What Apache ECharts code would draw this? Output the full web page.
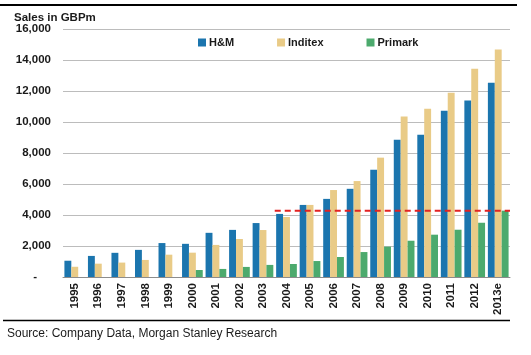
<!DOCTYPE html>
<html><head><meta charset="utf-8">
<script src="https://cdn.jsdelivr.net/npm/echarts@6/dist/echarts.min.js"></script>
<style>html,body{margin:0;padding:0;background:#fff}#c{width:531px;height:355px}</style>
</head><body><div id="c"></div>
<script>
const categories = ['1995','1996','1997','1998','1999','2000','2001','2002','2003','2004','2005','2006','2007','2008','2009','2010','2011','2012','2013e'];
const hm = [1050,1360,1560,1750,2190,2140,2850,3040,3480,4070,4650,5040,5690,6920,8860,9180,10730,11380,12540];
const inditex = [660,860,930,1100,1440,1570,2070,2450,3030,3870,4650,5610,6190,7700,10350,10860,11890,13440,14670];
const primark = [null,null,null,null,null,450,520,650,780,840,1030,1290,1610,1960,2340,2730,3050,3500,4280];
const refLevel = 4280;
const refStartIndex = 9;
const refEndIndex = 19;
const yTicks = {min:0, max:16000, interval:2000};

const chart = echarts.init(document.getElementById('c'), null, {renderer:'canvas'});
const FONT = '"Liberation Sans", Arial, sans-serif';
chart.setOption({
  animation:false,
  textStyle:{fontFamily:FONT},
  title:{text:'Sales in GBPm', left:9, top:7, textStyle:{fontSize:11.5, fontWeight:'bold', color:'#1a1a1a', fontFamily:FONT}},
  legend:{left:193, top:32, itemWidth:8, itemHeight:8, itemGap:43, icon:'rect',
    textStyle:{fontSize:11, fontWeight:'bold', color:'#1a1a1a', fontFamily:FONT, padding:[0,0,0,-2]},
    data:['H&M','Inditex','Primark']},
  grid:{left:63, right:21, top:29, bottom:78},
  xAxis:[{type:'category', data:categories,
    axisLine:{lineStyle:{color:'#8c8c8c', width:1}}, axisTick:{show:false},
    axisLabel:{rotate:90, fontSize:11.5, fontWeight:'bold', color:'#1a1a1a', margin:6, interval:0, fontFamily:FONT}},
   {type:'value', min:0, max:categories.length, show:false}],
  yAxis:{type:'value', min:yTicks.min, max:yTicks.max, interval:yTicks.interval,
    axisLine:{show:false}, axisTick:{show:false},
    splitLine:{lineStyle:{color:'#bcbcbc', width:1}},
    axisLabel:{margin:12, fontSize:11.5, fontWeight:'bold', color:'#1a1a1a', fontFamily:FONT,
      formatter:v=> v===0 ? '{d|-}' : v.toLocaleString('en-US'),
      rich:{d:{fontSize:11.5, fontWeight:'bold', color:'#1a1a1a', padding:[0,14,0,0]}}}},
  series:[
    {name:'H&M', type:'bar', data:hm, barGap:'0%', barCategoryGap:'12%', itemStyle:{color:'#1b75ae'}},
    {name:'Inditex', type:'bar', data:inditex, itemStyle:{color:'#e9cb87'}},
    {name:'Primark', type:'bar', data:primark, itemStyle:{color:'#4caa6d'}},
    {name:'ref', type:'line', xAxisIndex:1, data:[[refStartIndex,refLevel],[refEndIndex,refLevel]],
      symbol:'none', lineStyle:{color:'#e32222', width:2, type:[6,4]}, z:5, silent:true}
  ],
  graphic:[
    {type:'line', shape:{x1:0,y1:5,x2:517,y2:5}, style:{stroke:'#000', lineWidth:2}},
    {type:'line', shape:{x1:3,y1:320.5,x2:510,y2:320.5}, style:{stroke:'#000', lineWidth:1.5}},
    {type:'text', left:7, top:328, style:{text:'Source: Company Data, Morgan Stanley Research', fontSize:12, fill:'#1a1a1a', fontFamily:FONT}}
  ]
});
</script></body></html>
